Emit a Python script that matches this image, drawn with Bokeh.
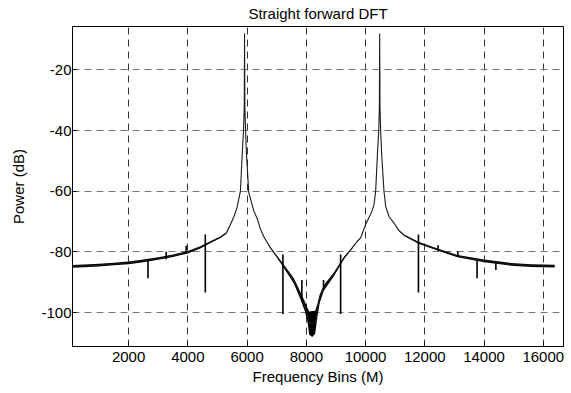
import numpy as np
from bokeh.plotting import figure
from bokeh.models import Range1d, FixedTicker, ColumnDataSource
from bokeh.embed import file_html
from bokeh.resources import INLINE

# ---- data ----
bins = [1, 500, 1000, 1500, 2000, 2500, 3000, 3500, 4000, 4420, 4800, 5100,
        5300, 5440, 5550, 5660, 5775, 5835, 5880, 5905, 5915, 5925, 5950,
        5980, 6058, 6227, 6341, 6453, 6565, 6791, 7000, 7186, 7400, 7580,
        7805, 7950, 8031, 8100, 8200, 8300, 8370, 8450, 8593, 8931, 9270,
        9500, 9723, 9834,
        10003, 10100, 10200, 10284, 10341, 10400, 10445, 10467, 10477,
        10487, 10510, 10545, 10622, 10680, 10800, 10961, 11130, 11299,
        11786, 12428, 13105, 14004, 14907, 15600, 16384]
power_db = [-84.8, -84.6, -84.4, -84.0, -83.6, -83.0, -82.2, -81.3, -80.1,
            -78.5, -76.6, -75.2, -73.8, -71.0, -68.5, -65.5, -60.0, -48.0,
            -40.0, -32.0, -8.0, -32.0, -40.0, -48.0, -60.5, -66.5, -69.0,
            -72.5, -75.0, -78.7, -81.5, -84.0, -87.0, -89.6, -94.5, -98.0,
            -100.5, -103.5, -103.8, -103.2, -99.5, -95.5, -91.8, -87.4, -82.0,
            -79.3, -76.5, -75.4,
            -71.0, -69.0, -67.0, -64.5, -60.0, -48.0, -40.0, -32.0, -8.0,
            -32.0, -40.0, -48.0, -60.0, -65.0, -68.5, -70.5, -73.0, -74.5,
            -77.0, -79.2, -81.4, -83.0, -84.1, -84.5, -84.7]
noise_db = [0.45, 0.45, 0.45, 0.45, 0.45, 0.45, 0.4, 0.4, 0.4, 0.35, 0.3,
            0.25, 0.2, 0.1, 0.0, 0.0, 0.0, 0.0, 0.0, 0.0, 0.0, 0.0, 0.0,
            0.0, 0.0, 0.0, 0.0, 0.0, 0.05, 0.15, 0.3, 0.5, 0.7, 0.9,
            1.2, 1.6, 2.2, 3.8, 4.3, 3.8, 2.2, 1.4, 0.9, 0.6, 0.4,
            0.25, 0.1, 0.05,
            0.0, 0.0, 0.0, 0.0, 0.0, 0.0, 0.0, 0.0, 0.0, 0.0, 0.0, 0.0,
            0.0, 0.0, 0.0, 0.0, 0.1, 0.2, 0.3, 0.35, 0.4, 0.45, 0.45,
            0.45, 0.45]

spike_bins = [2654, 3268, 3945, 4590, 7210, 7850, 8580, 9158, 11786,
              12449, 13115, 13765, 14400]
spike_top = [-82.8, -80.0, -78.0, -74.3, -80.9, -89.3, -89.3, -80.9, -74.3,
             -77.8, -79.8, -82.7, -83.4]
spike_bottom = [-88.7, -82.4, -80.4, -93.4, -100.5, -96.5, -92.5, -100.5,
                -93.4, -79.6, -81.6, -88.7, -86.0]

x_ticks = [2000, 4000, 6000, 8000, 10000, 12000, 14000, 16000]
y_ticks = [-100, -80, -60, -40, -20]

title_text = "Straight forward DFT"
x_label = "Frequency Bins (M)"
y_label = "Power (dB)"

FONT = "Liberation Sans"
FSIZE = "15px"

p = figure(width=571, height=393, output_backend="svg", toolbar_location=None,
           x_range=Range1d(106, 16683), y_range=Range1d(-111.2, -5.7),
           min_border_left=72, min_border_right=8, min_border_top=26,
           min_border_bottom=47, background_fill_color="white",
           border_fill_color="white")

p.title.text = title_text
p.title.align = "center"
p.title.vertical_align = "top"
p.title.text_font = FONT
p.title.text_font_size = FSIZE
p.title.text_font_style = "normal"
p.title.text_color = "black"
p.title.standoff = 6

src = ColumnDataSource(dict(
    x=bins, y=power_db,
    lo=list(np.array(power_db) - np.array(noise_db)),
    hi=list(np.array(power_db) + np.array(noise_db)),
))
p.varea(x="x", y1="lo", y2="hi", source=src, fill_color="black")
p.line(x="x", y="y", source=src, line_color="#1a1a1a", line_width=1.1)
p.segment(x0=spike_bins, y0=spike_bottom, x1=spike_bins, y1=spike_top,
          line_color="black", line_width=1.6)

for ax in (p.xaxis[0], p.yaxis[0]):
    ax.major_label_text_font = FONT
    ax.major_label_text_font_size = FSIZE
    ax.major_label_text_color = "black"
    ax.axis_label_text_font = FONT
    ax.axis_label_text_font_size = FSIZE
    ax.axis_label_text_font_style = "normal"
    ax.axis_label_text_color = "black"
    ax.axis_line_color = "black"
    ax.major_tick_in = 4
    ax.major_tick_out = 0
    ax.major_tick_line_color = "black"
    ax.minor_tick_line_color = None

p.xaxis.ticker = FixedTicker(ticks=x_ticks)
p.yaxis.ticker = FixedTicker(ticks=y_ticks)
p.xaxis.major_label_overrides = {t: str(t) for t in x_ticks}
p.yaxis.major_label_overrides = {t: str(t) for t in y_ticks}
p.xaxis.axis_label = x_label
p.yaxis.axis_label = y_label
p.xaxis.major_label_standoff = 5
p.xaxis.axis_label_standoff = 3
p.yaxis.major_label_standoff = 1
p.yaxis.axis_label_standoff = 11

p.xgrid.grid_line_color = "#333333"
p.xgrid.grid_line_dash = "7 5"
p.ygrid.grid_line_color = "#777777"
p.ygrid.grid_line_dash = "7 5"

p.outline_line_color = "black"
p.outline_line_alpha = 1.0
p.outline_line_width = 1

open("out.html", "w").write(file_html(p, INLINE))
